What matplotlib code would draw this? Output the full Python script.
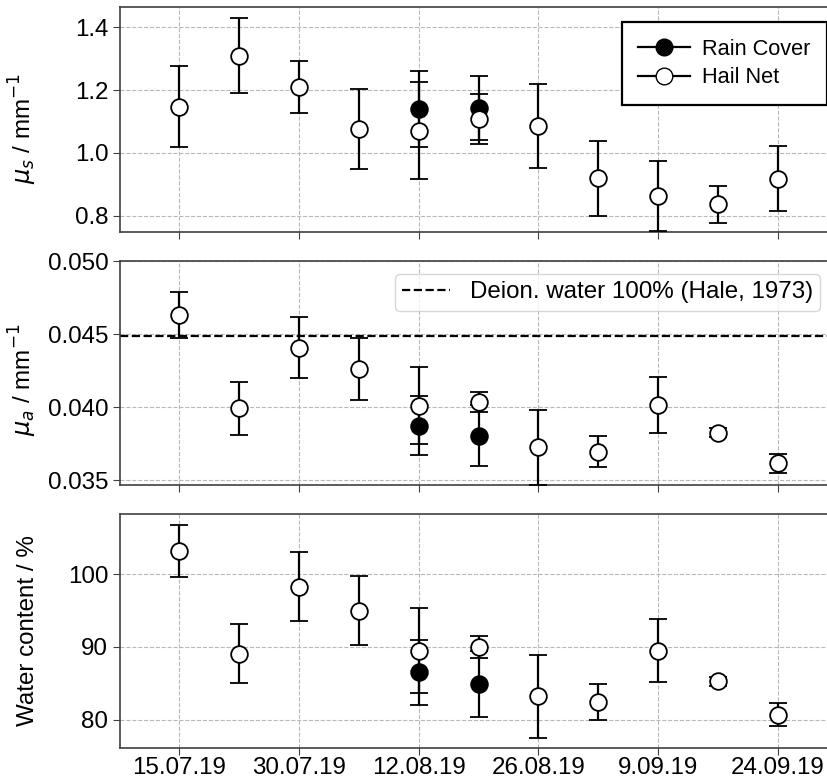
#!/usr/bin/env python3
import numpy as np
import matplotlib
matplotlib.use("Agg")
import matplotlib.pyplot as plt

# sampling dates (ticks every second sample)
tick_labels = ["15.07.19", "30.07.19", "12.08.19", "26.08.19", "9.09.19", "24.09.19"]
n_samples = 11
rain_idx = [4, 5]

# reduced scattering coefficient / mm^-1
mus_hail = [1.147, 1.310, 1.211, 1.076, 1.071, 1.107, 1.086, 0.919, 0.863, 0.836, 0.918]
mus_hail_err = [0.129, 0.119, 0.083, 0.127, 0.155, 0.080, 0.135, 0.120, 0.112, 0.060, 0.104]
mus_rain = [1.140, 1.142]
mus_rain_err = [0.122, 0.102]

# absorption coefficient / mm^-1
mua_hail = [0.04631, 0.03992, 0.04407, 0.04261, 0.04010, 0.04033, 0.03725, 0.03696, 0.04015, 0.03826, 0.03616]
mua_hail_err = [0.0016, 0.0018, 0.0021, 0.0021, 0.00262, 0.00068, 0.00257, 0.00105, 0.00194, 0.0003, 0.00066]
mua_rain = [0.03874, 0.03805]
mua_rain_err = [0.00203, 0.0021]
mua_water = 0.04487

# water content / %
wc_hail = [103.2, 89.1, 98.3, 95.0, 89.5, 90.0, 83.2, 82.4, 89.5, 85.3, 80.7]
wc_hail_err = [3.6, 4.1, 4.75, 4.7, 5.83, 1.5, 5.7, 2.5, 4.37, 0.6, 1.56]
wc_rain = [86.5, 84.9]
wc_rain_err = [4.5, 4.6]

plt.rcParams["font.family"] = ["Liberation Sans", "DejaVu Sans"]
plt.rcParams["mathtext.fontset"] = "dejavusans"
FS = 17.4

W, H = 828, 780
fig = plt.figure(figsize=(W / 100, H / 100), dpi=100)

def add_ax(top, bottom):
    left, right = 120, 832
    return fig.add_axes([left / W, 1 - bottom / H, (right - left) / W, (bottom - top) / H])

ax1 = add_ax(7, 232)
ax2 = add_ax(261, 485)
ax3 = add_ax(514, 748)

x = np.arange(n_samples)
xr = x[rain_idx]

eb = dict(fmt="o", color="black", ecolor="black", elinewidth=1.6, capsize=6.5,
          capthick=1.6, markersize=12, markeredgecolor="black", markeredgewidth=1.3)

panels = [
    (ax1, mus_rain, mus_rain_err, mus_hail, mus_hail_err),
    (ax2, mua_rain, mua_rain_err, mua_hail, mua_hail_err),
    (ax3, wc_rain, wc_rain_err, wc_hail, wc_hail_err),
]
for ax, r, re, h, he in panels:
    ax.errorbar(xr, r, yerr=re, markerfacecolor="black", zorder=3, **eb)
    ax.errorbar(x, h, yerr=he, markerfacecolor="white", zorder=4, **eb)
    ax.grid(True, linestyle="--", color="#b8b8b8", linewidth=0.8)
    ax.set_axisbelow(True)
    ax.set_xlim(-0.985, 10.9)
    ax.set_xticks(x[::2])
    ax.tick_params(labelsize=FS, length=5, color="#404040")
    ax.tick_params(axis="x", pad=1.5)
    for s in ax.spines.values():
        s.set_color("#404040")
        s.set_linewidth(1.2)

ax1.set_xticklabels([])
ax2.set_xticklabels([])
ax3.set_xticklabels(tick_labels)

ax1.set_ylim(0.748, 1.465)
ax1.set_yticks([0.8, 1.0, 1.2, 1.4])
ax2.set_ylim(0.03468, 0.050)
ax2.set_yticks([0.035, 0.040, 0.045, 0.050])
ax3.set_ylim(76.1, 108.3)
ax3.set_yticks([80, 90, 100])

ax2.axhline(mua_water, color="black", linestyle="--", linewidth=1.6, zorder=2,
            label="Deion. water 100% (Hale, 1973)")

ax1.set_ylabel(r"$\mu_s$ / mm$^{-1}$", fontsize=FS)
ax2.set_ylabel(r"$\mu_a$ / mm$^{-1}$", fontsize=FS)
ax3.set_ylabel("Water content / %", fontsize=FS)
lab_x = (39 - 120) / 712
ax1.yaxis.set_label_coords(lab_x, 0.46)
ax2.yaxis.set_label_coords(lab_x, 0.47)
ax3.yaxis.set_label_coords(lab_x, 0.5)

# legend for the first panel
h_rain = plt.Line2D([], [], color="black", marker="o", markersize=12,
                    markerfacecolor="black", markeredgecolor="black", linewidth=1.6)
h_hail = plt.Line2D([], [], color="black", marker="o", markersize=12,
                    markerfacecolor="white", markeredgecolor="black", linewidth=1.6)
leg1 = ax1.legend([h_rain, h_hail], ["Rain Cover", "Hail Net"], fontsize=15.7,
                  loc="upper right", bbox_to_anchor=(827 / W, 1 - 22.3 / H),
                  bbox_transform=fig.transFigure, borderaxespad=0, fancybox=False,
                  framealpha=1, edgecolor="black", handlelength=2.37,
                  labelspacing=0.35, borderpad=0.75, handletextpad=0.56)
leg1.get_frame().set_linewidth(1.6)

ax2.legend(fontsize=FS, loc="upper right", bbox_to_anchor=(820 / W, 1 - 274 / H),
           bbox_transform=fig.transFigure, borderaxespad=0, handlelength=2.0,
           borderpad=0.3)

fig.savefig("out.png", dpi=100)
